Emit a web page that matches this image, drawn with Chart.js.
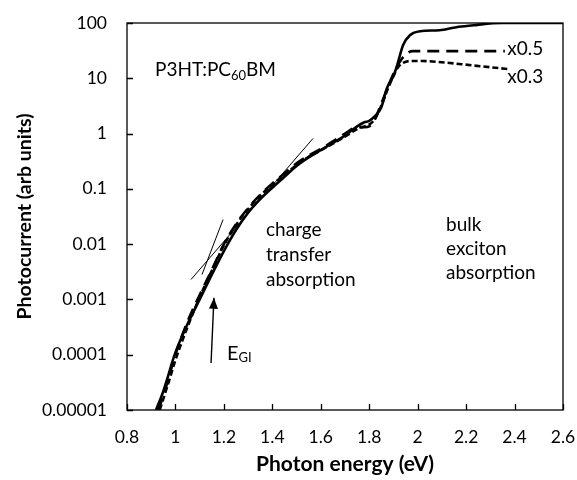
<!DOCTYPE html>
<html><head><meta charset="utf-8">
<script src="https://cdn.jsdelivr.net/npm/chart.js@4.4.1/dist/chart.umd.min.js"></script>
<style>html,body{margin:0;padding:0;background:#fff}#wrap{width:577px;height:480px}</style>
</head><body><div id="wrap"><canvas id="c" width="577" height="480"></canvas></div>
<script>
const xTickValues=[0.8,1.0,1.2,1.4,1.6,1.8,2.0,2.2,2.4,2.6];
const xTickLabels=['0.8','1','1.2','1.4','1.6','1.8','2','2.2','2.4','2.6'];
const yTickValues=[1e-5,1e-4,1e-3,1e-2,1e-1,1,10,100];
const yTickLabels=['0.00001','0.0001','0.001','0.01','0.1','1','10','100'];

// full-intensity curve (solid)
const solidEnergy=[0.92,0.95,1.00,1.05,1.10,1.15,1.20,1.25,1.30,1.35,1.40,1.45,1.50,1.55,1.60,1.65,1.70,1.75,1.78,1.80,1.82,1.85,1.873,1.90,1.915,1.94,1.968,2.01,2.09,2.16,2.23,2.31,2.35,2.60];
const solidCurrent=[1.0e-5,2.2e-5,1.1e-4,3.6e-4,1.0e-3,2.8e-3,7.5e-3,0.018,0.037,0.065,0.105,0.165,0.26,0.37,0.50,0.68,0.92,1.35,1.6,1.7,2.0,3.0,6.6,11,17,40,60,71,74,84,91,99,100,100];
// x0.5 intensity (long dashes)
const halfEnergy=[0.93,0.96,1.00,1.05,1.10,1.15,1.20,1.25,1.30,1.35,1.40,1.45,1.50,1.55,1.60,1.65,1.70,1.75,1.78,1.80,1.82,1.85,1.88,1.90,1.92,1.95,1.98,2.05,2.36];
const halfCurrent=[1.0e-5,2.5e-5,1.0e-4,4.0e-4,1.2e-3,3.4e-3,0.010,0.023,0.045,0.078,0.125,0.19,0.29,0.40,0.53,0.72,1.0,1.3,1.3,1.35,1.7,3.5,7.5,12,18,27,31,31,31];
// x0.3 intensity (short dashes)
const thirdEnergy=[0.935,0.97,1.00,1.05,1.10,1.15,1.20,1.25,1.30,1.35,1.40,1.45,1.50,1.55,1.60,1.65,1.70,1.75,1.78,1.80,1.82,1.85,1.88,1.90,1.92,1.94,1.97,2.02,2.10,2.18,2.26,2.34,2.373];
const thirdCurrent=[1.0e-5,3e-5,8e-5,3.2e-4,1.1e-3,3.3e-3,0.0095,0.022,0.043,0.075,0.12,0.18,0.27,0.38,0.50,0.66,0.88,1.2,1.35,1.45,1.75,3.2,7,11,16,19,20.5,20.5,19.5,18,16.5,15.2,14.7];
// tangent lines
const steepTangentEnergy=[1.1097,1.1967];
const steepTangentCurrent=[2.82e-3,0.0279];
const ctTangentEnergy=[1.0642,1.568];
const ctTangentCurrent=[2.29e-3,0.817];
// E_GI arrow
const arrowEnergy=[1.147,1.159];
const arrowCurrent=[7.1e-5,1.07e-3];

const pts=(xs,ys)=>xs.map((x,i)=>({x:x,y:ys[i]}));
const FONT='Lato';

const decor={
  id:'decor',
  afterDraw(chart){
    const {ctx,chartArea:a,scales:{x,y}}=chart;
    ctx.save();
    ctx.strokeStyle='#000';ctx.lineWidth=1.3;
    ctx.strokeRect(a.left,a.top,a.right-a.left,a.bottom-a.top);
    ctx.beginPath();
    yTickValues.forEach(v=>{const py=Math.round(y.getPixelForValue(v))+0.5;ctx.moveTo(a.left,py);ctx.lineTo(a.left+6,py);});
    xTickValues.forEach(v=>{const px=Math.round(x.getPixelForValue(v))+0.5;ctx.moveTo(px,a.bottom);ctx.lineTo(px,a.bottom-6);});
    ctx.stroke();
    // arrow head
    const tx=x.getPixelForValue(arrowEnergy[1]),ty=y.getPixelForValue(arrowCurrent[1]);
    const bx=x.getPixelForValue(arrowEnergy[0]),by=y.getPixelForValue(arrowCurrent[0]);
    const ang=Math.atan2(ty-by,tx-bx);
    ctx.fillStyle='#000';ctx.beginPath();
    ctx.moveTo(tx,ty);
    ctx.lineTo(tx-11*Math.cos(ang)+4.5*Math.sin(ang),ty-11*Math.sin(ang)-4.5*Math.cos(ang));
    ctx.lineTo(tx-11*Math.cos(ang)-4.5*Math.sin(ang),ty-11*Math.sin(ang)+4.5*Math.cos(ang));
    ctx.closePath();ctx.fill();
    // texts
    ctx.fillStyle='#000';ctx.textBaseline='alphabetic';ctx.textAlign='left';
    const P=(e,v)=>[x.getPixelForValue(e),y.getPixelForValue(v)];
    let [px,py]=P(0.9156,11.0);
    ctx.font='19px '+FONT;ctx.fillText('P3HT:PC',px,py);
    let w=ctx.measureText('P3HT:PC').width;
    ctx.font='13px '+FONT;ctx.fillText('60',px+w,py+4);
    let w2=ctx.measureText('60').width;
    ctx.font='19px '+FONT;ctx.fillText('BM',px+w+w2,py);
    [px,py]=P(1.374,0.01406);
    ['charge','transfer','absorption'].forEach((t,i)=>ctx.fillText(t,px,py+i*25));
    [px,py]=P(2.117,0.0173);
    ['bulk','exciton','absorption'].forEach((t,i)=>ctx.fillText(t,px,py+i*24));
    [px,py]=P(2.37,26.4);ctx.fillText('x0.5',px,py);
    [px,py]=P(2.37,8.22);ctx.fillText('x0.3',px,py);
    [px,py]=P(1.2128,8.03e-5);
    ctx.font='20px '+FONT;ctx.fillText('E',px,py);
    w=ctx.measureText('E').width;
    ctx.font='13px '+FONT;ctx.fillText('GI',px+w,py+2);
    ctx.restore();
  }
};

new Chart(document.getElementById('c'),{
  type:'line',
  data:{datasets:[
    {data:pts(solidEnergy,solidCurrent),borderColor:'#000',borderWidth:2.6,pointRadius:0,cubicInterpolationMode:'monotone'},
    {data:pts(halfEnergy,halfCurrent),borderColor:'#000',borderWidth:2.6,borderDash:[12,7],pointRadius:0,cubicInterpolationMode:'monotone'},
    {data:pts(thirdEnergy,thirdCurrent),borderColor:'#000',borderWidth:2.6,borderDash:[6,3],pointRadius:0,cubicInterpolationMode:'monotone'},
    {data:pts(steepTangentEnergy,steepTangentCurrent),borderColor:'#000',borderWidth:1,pointRadius:0},
    {data:pts(ctTangentEnergy,ctTangentCurrent),borderColor:'#000',borderWidth:1,pointRadius:0},
    {data:pts(arrowEnergy,arrowCurrent),borderColor:'#000',borderWidth:1.4,pointRadius:0}
  ]},
  options:{
    responsive:false,animation:false,devicePixelRatio:1,
    layout:{padding:{top:23,right:14,left:0,bottom:0}},
    plugins:{legend:{display:false},tooltip:{enabled:false}},
    scales:{
      x:{type:'linear',min:0.8,max:2.6,
        afterBuildTicks:s=>{s.ticks=xTickValues.map(v=>({value:v}));},
        afterFit:s=>{s.height=70;s.paddingLeft=0;s.paddingRight=0;},
        grid:{display:false,drawTicks:false},border:{display:false},
        ticks:{padding:17,color:'#000',font:{family:FONT,size:17.5},maxRotation:0,autoSkip:false,callback:(v,i)=>xTickLabels[i]},
        title:{display:true,text:'Photon energy (eV)',color:'#000',font:{family:FONT,size:21,weight:'bold'},padding:{top:0,bottom:3}}
      },
      y:{type:'logarithmic',min:1e-5,max:100,
        afterBuildTicks:s=>{s.ticks=yTickValues.map(v=>({value:v}));},
        afterFit:s=>{s.width=127;s.paddingTop=0;s.paddingBottom=0;},
        grid:{display:false,drawTicks:false},border:{display:false},
        ticks:{padding:20,color:'#000',font:{family:FONT,size:17.5},autoSkip:false,callback:(v,i)=>yTickLabels[i]},
        title:{display:true,text:'Photocurrent (arb units)',color:'#000',font:{family:FONT,size:19.5,weight:'bold'},padding:{top:13,bottom:0}}
      }
    }
  },
  plugins:[decor]
});
</script></body></html>
